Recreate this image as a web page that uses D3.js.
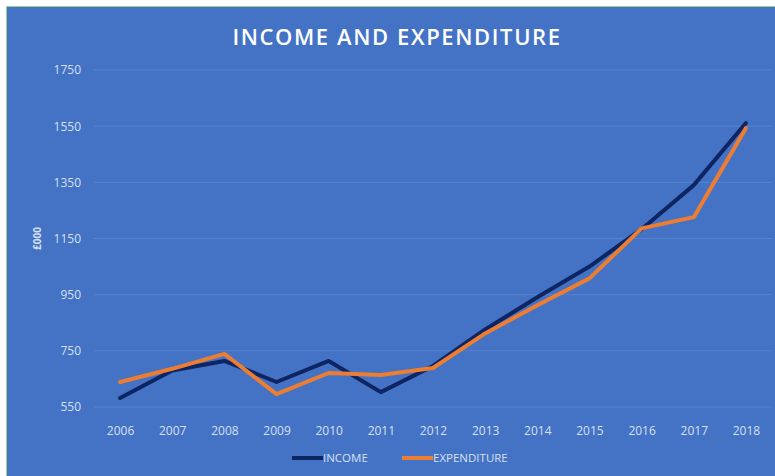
<!DOCTYPE html>
<html><head><meta charset="utf-8">
<script src="https://cdn.jsdelivr.net/npm/d3@7"></script>
<style>html,body{margin:0;padding:0;background:#fff;}svg{display:block;}</style>
</head><body>
<script>
const years = ["2006","2007","2008","2009","2010","2011","2012","2013","2014","2015","2016","2017","2018"];
const income = [582, 680, 714, 639, 714, 603, 696, 826, 941, 1050, 1183, 1340, 1561];
const expenditure = [639, 686, 739, 596, 671, 664, 689, 812, 912, 1008, 1186, 1226, 1543];
const yTicks = [550, 750, 950, 1150, 1350, 1550, 1750];
const seriesNames = ["INCOME", "EXPENDITURE"];

const W = 775, H = 476;
const svg = d3.select("body").append("svg").attr("width", W).attr("height", H);

svg.append("rect").attr("x", 6).attr("y", 6).attr("width", W - 6).attr("height", H - 6).attr("fill", "#9ccf8c");
svg.append("rect").attr("x", 7).attr("y", 7).attr("width", W - 7).attr("height", H - 7).attr("fill", "#4472C4");

const m = {left: 94, right: 772, top: 70, bottom: 407};
const x = d3.scalePoint().domain(years).range([m.left, m.right]).padding(0.5);
const y = d3.scaleLinear().domain([550, 1750]).range([m.bottom, m.top]);

const tickColor = "#d6e0f3";
const font = "'Open Sans', 'Liberation Sans', sans-serif";

// gridlines
svg.append("g").selectAll("line").data(yTicks).join("line")
  .attr("x1", m.left).attr("x2", m.right)
  .attr("y1", d => y(d)).attr("y2", d => y(d))
  .attr("stroke", "#5584cf").attr("stroke-width", 1);

// y axis labels
const yAxis = svg.append("g").attr("transform", `translate(${m.left - 13},0)`)
  .call(d3.axisLeft(y).tickValues(yTicks).tickFormat(d3.format("d")).tickSize(0).tickPadding(0));
yAxis.select(".domain").remove();
yAxis.selectAll("text").attr("fill", tickColor).style("font-family", font).style("font-size", "12px");

// x axis labels
const xAxis = svg.append("g").attr("transform", `translate(0,${m.bottom + 19})`)
  .call(d3.axisBottom(x).tickSize(0).tickPadding(0));
xAxis.select(".domain").remove();
xAxis.selectAll("text").attr("fill", tickColor).style("font-family", font).style("font-size", "12px");

// y title
svg.append("text").attr("transform", `translate(41,${y(1150)}) rotate(-90)`)
  .attr("text-anchor", "middle").attr("fill", tickColor)
  .style("font-family", font).style("font-size", "10px").style("font-weight", "bold").text("£000");

// title
svg.append("text").attr("x", 397).attr("y", 45).attr("text-anchor", "middle")
  .attr("fill", "#ffffff").style("font-family", "'Open Sans', sans-serif")
  .style("font-size", "22px").style("font-weight", "600").style("letter-spacing", "1.6px")
  .text("INCOME AND EXPENDITURE");

const line = d3.line().x((d, i) => x(years[i])).y(d => y(d));
const colors = ["#0d2563", "#ED7D31"];
[income, expenditure].forEach((s, k) => {
  svg.append("path").datum(s).attr("d", line).attr("fill", "none")
    .attr("stroke", colors[k]).attr("stroke-width", 4)
    .attr("stroke-linejoin", "round").attr("stroke-linecap", "round");
});

// legend
const legX = [292, 402];
seriesNames.forEach((n, k) => {
  svg.append("line").attr("x1", legX[k]).attr("x2", legX[k] + 31).attr("y1", 458).attr("y2", 458)
    .attr("stroke", colors[k]).attr("stroke-width", 4);
  svg.append("text").attr("x", legX[k] + 31).attr("y", 462).attr("fill", tickColor)
    .style("font-family", font).style("font-size", "11.5px").text(n);
});
</script>
</body></html>
